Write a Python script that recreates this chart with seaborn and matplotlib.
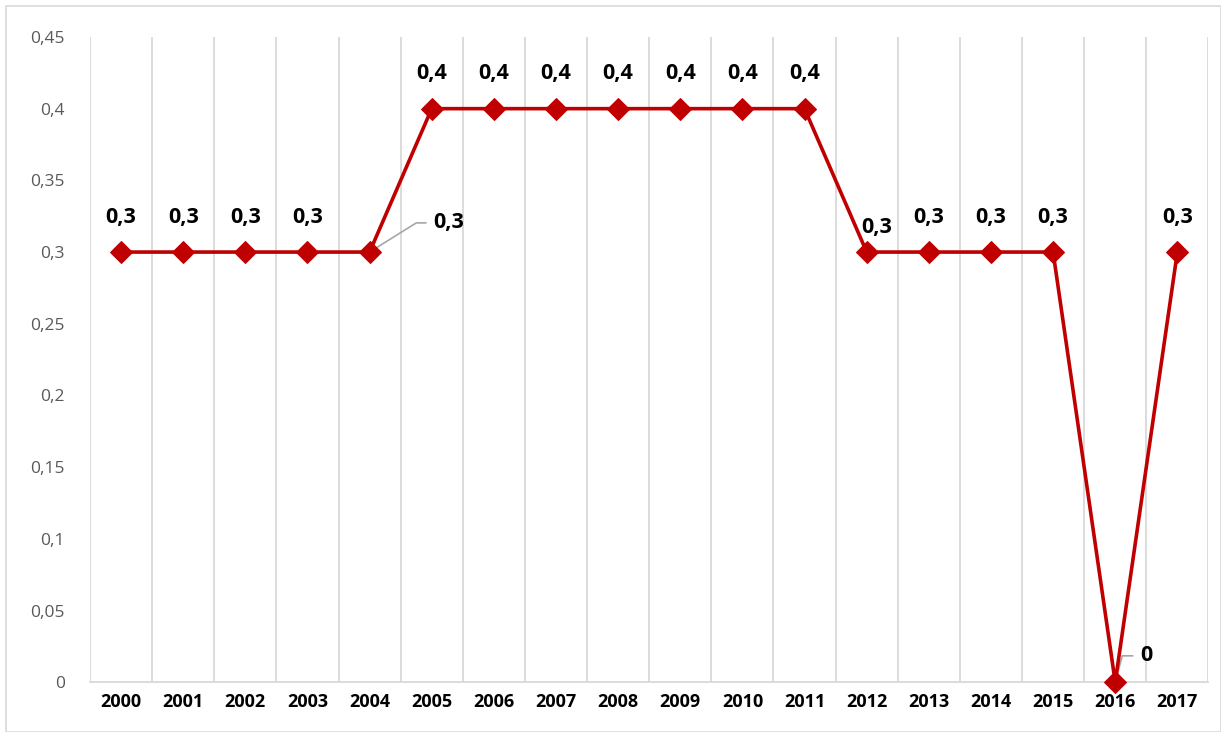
import seaborn as sns
import matplotlib.pyplot as plt
import pandas as pd
from matplotlib.ticker import FuncFormatter, MultipleLocator
from matplotlib.patches import Rectangle

years = ['2000', '2001', '2002', '2003', '2004', '2005', '2006', '2007', '2008',
         '2009', '2010', '2011', '2012', '2013', '2014', '2015', '2016', '2017']
values = [0.3, 0.3, 0.3, 0.3, 0.3, 0.4, 0.4, 0.4, 0.4,
          0.4, 0.4, 0.4, 0.3, 0.3, 0.3, 0.3, 0.0, 0.3]

df = pd.DataFrame({'pos': range(len(years)), 'year': years, 'value': values})

sns.set_theme(style='white')
plt.rcParams['font.family'] = ['Open Sans', 'DejaVu Sans']

red = '#C00000'
fig = plt.figure(figsize=(12.21, 7.32), dpi=100)
ax = fig.add_axes([0.0737, 0.068, 0.916, 0.8815])

sns.lineplot(data=df, x='pos', y='value', ax=ax, color=red, linewidth=2.6,
             marker='D', markersize=11, markeredgecolor=red, markerfacecolor=red,
             clip_on=False, zorder=5)

ax.set_xlim(-0.5, len(years) - 0.5)
ax.set_ylim(0, 0.45)
ax.yaxis.set_major_locator(MultipleLocator(0.05))
ax.yaxis.set_major_formatter(FuncFormatter(lambda v, p: ('%g' % round(v, 2)).replace('.', ',')))
ax.set_xticks(df['pos'])
ax.set_xticklabels(years, fontweight='bold', fontsize=13, color='black')
ax.set_xticks([k + 0.5 for k in range(-1, len(years))], minor=True)
ax.grid(True, which='minor', axis='x', color='#D9D9D9', linewidth=1.3)
ax.grid(False, which='major')
ax.tick_params(axis='y', labelsize=12.5, labelcolor='#595959', length=0, pad=18)
ax.tick_params(axis='x', which='both', length=0, pad=8)
ax.set_xlabel('')
ax.set_ylabel('')
for s in ['top', 'right', 'left']:
    ax.spines[s].set_visible(False)
ax.spines['bottom'].set_color('#D9D9D9')
ax.spines['bottom'].set_linewidth(1.3)

lbl_style = dict(fontsize=15.5, fontweight='bold', color='black', va='center')
for i, v in enumerate(values):
    lbl = ('%g' % v).replace('.', ',')
    if i == 4:
        ax.annotate(lbl, (i, v), xytext=(46, 21), textcoords='offset points', ha='left',
                    arrowprops=dict(arrowstyle='-', color='#A6A6A6', lw=1.2,
                                    shrinkA=3, shrinkB=0, relpos=(0, 0.5),
                                    connectionstyle='angle,angleA=0,angleB=32,rad=0'),
                    **lbl_style)
    elif i == 16:
        ax.annotate(lbl, (i, v), xytext=(18, 19), textcoords='offset points', ha='left',
                    arrowprops=dict(arrowstyle='-', color='#A6A6A6', lw=1.2,
                                    shrinkA=3, shrinkB=0, relpos=(0, 0.5),
                                    connectionstyle='angle,angleA=0,angleB=75,rad=0'),
                    **lbl_style)
    elif i == 12:
        ax.annotate(lbl, (i, v), xytext=(7, 18), textcoords='offset points', ha='center',
                    **lbl_style)
    else:
        ax.annotate(lbl, (i, v), xytext=(0, 25), textcoords='offset points', ha='center',
                    **lbl_style)

fig.patches.append(Rectangle((6 / 1221, 0), 1 - 6 / 1221, 1 - 6 / 732,
                             transform=fig.transFigure, fill=False,
                             edgecolor='#D9D9D9', linewidth=1.2))

plt.savefig('out.png', dpi=100)
